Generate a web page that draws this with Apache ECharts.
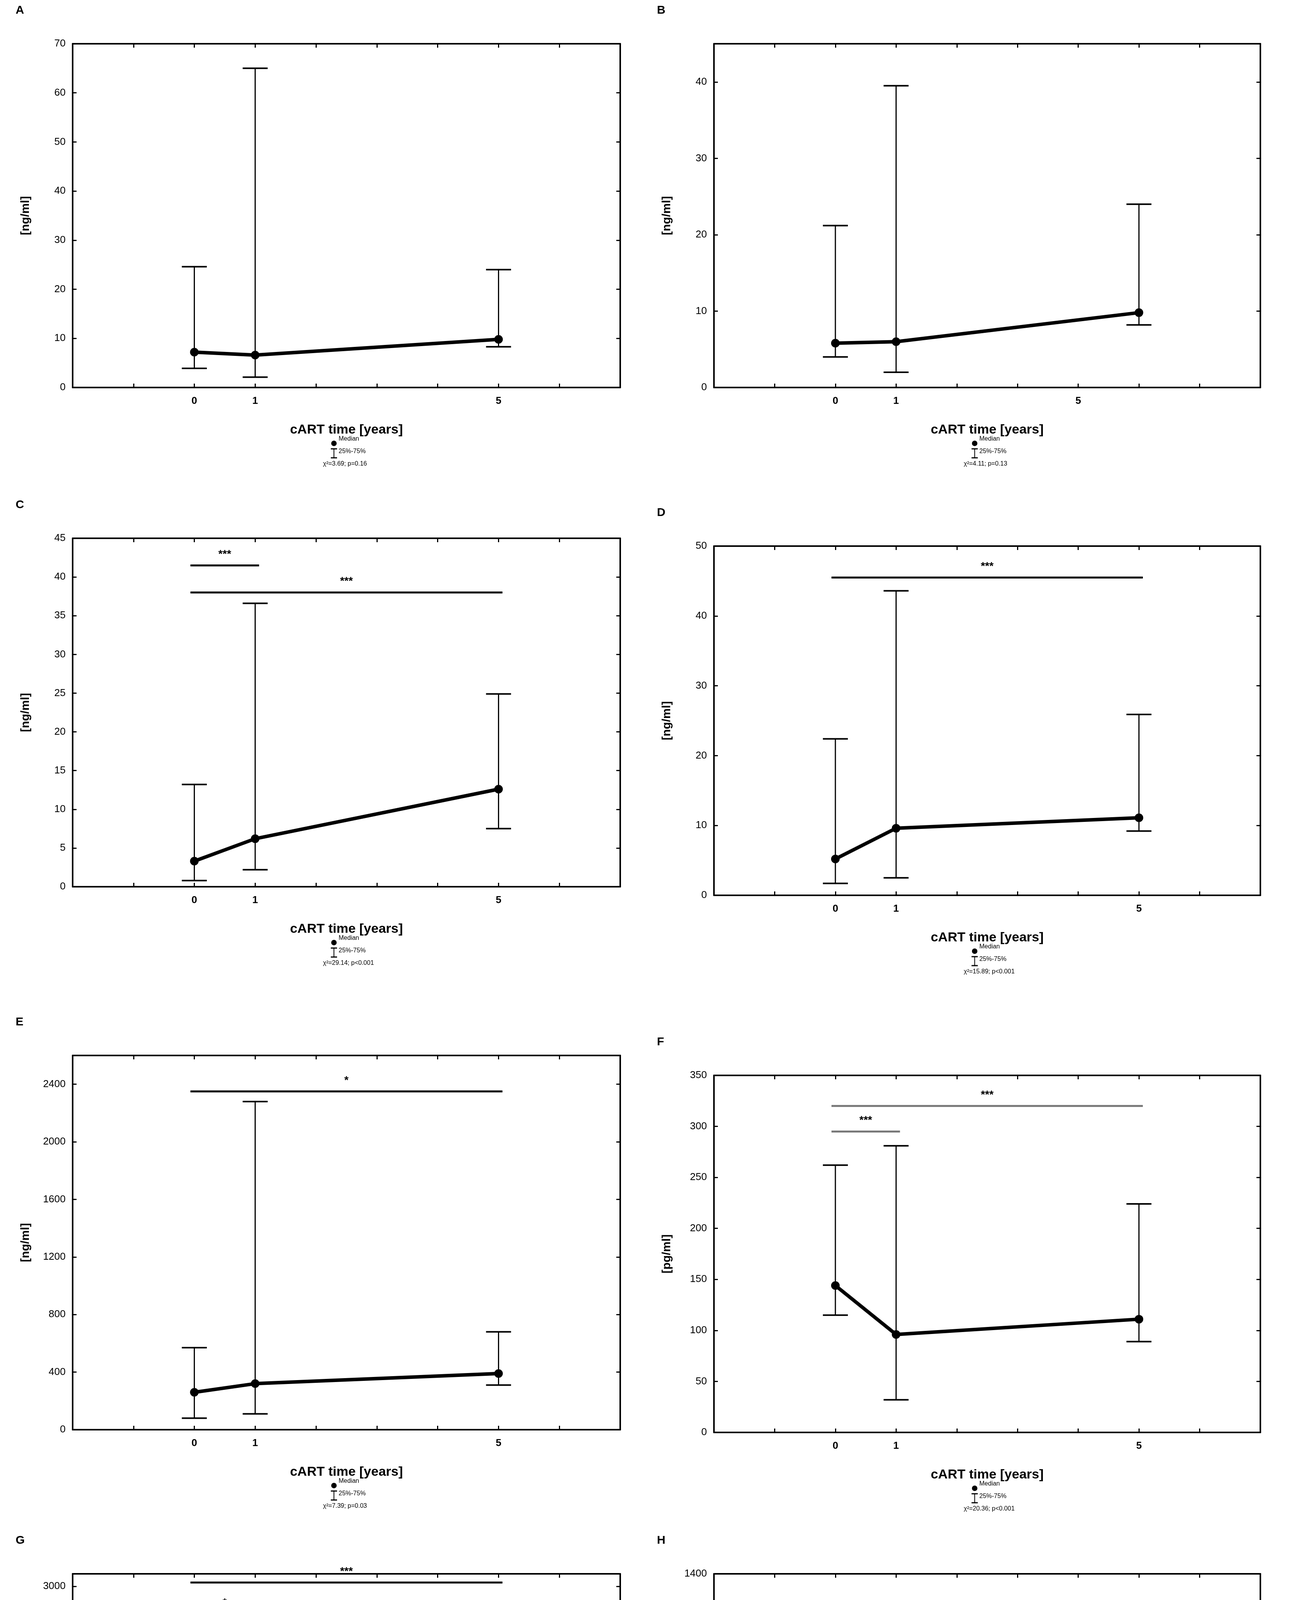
<!DOCTYPE html>
<html><head><meta charset="utf-8">
<script src="https://cdn.jsdelivr.net/npm/echarts@6/dist/echarts.min.js"></script>
<style>html,body{margin:0;padding:0;background:#fff}#c{width:3308px;height:5353px}</style>
</head><body><div id="c"></div>
<script>
const letters = ['A','B','C','D','E','F','G','H'];
const units = ['[ng/ml]','[ng/ml]','[ng/ml]','[ng/ml]','[ng/ml]','[pg/ml]','[ng/ml]','[ng/ml]'];
const yMax = [70,45,45,50,2600,350,3100,1400];
const yStep = [10,10,5,10,400,50,500,200];
const pointX = [[0,1,5],[0,1,5],[0,1,5],[0,1,5],[0,1,5],[0,1,5],[0,1,5],[0,1,5]];
const tickLabels = [{0:'0',1:'1',5:'5'},{0:'0',1:'1',4:'5'},{0:'0',1:'1',5:'5'},{0:'0',1:'1',5:'5'},{0:'0',1:'1',5:'5'},{0:'0',1:'1',5:'5'},{0:'0',1:'1',5:'5'},{0:'0',1:'1',5:'5'}];
const medians = [[7.2,6.6,9.8],[5.8,6.0,9.8],[3.3,6.2,12.6],[5.2,9.6,11.1],[260,320,390],[144,96,111],[230,350,430],[220,170,265]];
const q1 = [[3.9,2.1,8.3],[4.0,2.0,8.2],[0.8,2.2,7.5],[1.7,2.5,9.2],[80,110,310],[115,32,89],[100,140,330],[175,55,185]];
const q3 = [[24.6,65,24],[21.2,39.5,24],[13.2,36.6,24.9],[22.4,43.6,25.9],[570,2280,680],[262,281,224],[640,2680,1070],[430,1300,510]];
const sigBars = [[],[],[[0,1,41.5,'***'],[0,5,38,'***']],[[0,5,45.5,'***']],[[0,5,2350,'*']],[[0,1,295,'***'],[0,5,320,'***']],[[0,1,2780,'*'],[0,5,3030,'***']],[]];
const sigColor = ['#000','#000','#000','#000','#000','#777','#000','#000'];
const stats = ['χ²=3.69; p=0.16','χ²=4.11; p=0.13','χ²=29.14; p<0.001','χ²=15.89; p<0.001','χ²=7.39; p=0.03','χ²=20.36; p<0.001','χ²=16.96; p<0.001','χ²=2.28; p>0.05'];
const xLabel = 'cART time [years]';

const boxes = [[186,112,1402,880],[1828,112,1399,880],[186,1378,1402,892],[1828,1398,1399,894],[186,2702,1402,958],[1828,2753,1399,914],[186,4029,1402,989],[1828,4029,1399,996]];
const F = 'Liberation Sans, Arial, sans-serif';
const grid=[],xAxis=[],yAxis=[],series=[],graphic=[];
boxes.forEach((b,i)=>{
  const [l,t,w,h]=b;
  grid.push({left:l,top:t,width:w,height:h,show:false});
  const tl=tickLabels[i];
  const xb={gridIndex:i,type:'value',min:-2,max:7,interval:1,splitLine:{show:false},
    axisLine:{show:true,onZero:false,lineStyle:{color:'#000',width:4}},
    axisTick:{show:true,inside:true,length:10,lineStyle:{color:'#000',width:3}}};
  xAxis.push(Object.assign({},xb,{position:'bottom',name:xLabel,nameLocation:'middle',nameGap:92,
    nameTextStyle:{fontFamily:F,fontSize:34,fontWeight:'bold',color:'#000'},
    axisLabel:{margin:22,fontFamily:F,fontSize:26,fontWeight:'bold',color:'#000',formatter:v=>tl[v]!==undefined?tl[v]:''}}));
  xAxis.push(Object.assign({},xb,{position:'top',axisLabel:{show:false}}));
  const yb={gridIndex:i,type:'value',min:0,max:yMax[i],interval:yStep[i],splitLine:{show:false},
    axisLine:{show:true,onZero:false,lineStyle:{color:'#000',width:4}},
    axisTick:{show:true,inside:true,length:10,lineStyle:{color:'#000',width:3}}};
  yAxis.push(Object.assign({},yb,{position:'left',name:units[i],nameLocation:'middle',nameGap:105,
    nameTextStyle:{fontFamily:F,fontSize:30,fontWeight:'bold',color:'#000'},
    axisLabel:{margin:18,fontFamily:F,fontSize:26,color:'#000',formatter:v=>String(v),showMaxLabel:yMax[i]%yStep[i]===0}}));
  yAxis.push(Object.assign({},yb,{position:'right',axisLabel:{show:false}}));
  const xi=2*i, yi=2*i;
  series.push({type:'custom',xAxisIndex:xi,yAxisIndex:yi,z:2,
    data:pointX[i].map((x,k)=>[x,q1[i][k],q3[i][k]]),
    renderItem:(p,api)=>{const a=api.coord([api.value(0),api.value(1)]),c=api.coord([api.value(0),api.value(2)]);const hw=32;
      const st={stroke:'#000',lineWidth:3};
      return {type:'group',children:[
        {type:'line',shape:{x1:a[0],y1:a[1],x2:c[0],y2:c[1]},style:st},
        {type:'line',shape:{x1:a[0]-hw,y1:a[1],x2:a[0]+hw,y2:a[1]},style:{stroke:'#000',lineWidth:4}},
        {type:'line',shape:{x1:c[0]-hw,y1:c[1],x2:c[0]+hw,y2:c[1]},style:{stroke:'#000',lineWidth:4}}]};}});
  series.push({type:'line',xAxisIndex:xi,yAxisIndex:yi,z:3,data:pointX[i].map((x,k)=>[x,medians[i][k]]),
    symbol:'circle',symbolSize:22,itemStyle:{color:'#000'},lineStyle:{color:'#000',width:9},silent:true});
  if(sigBars[i].length) series.push({type:'custom',xAxisIndex:xi,yAxisIndex:yi,z:2,data:sigBars[i],
    renderItem:(p,api)=>{const s=sigBars[i][p.dataIndex];const a=api.coord([s[0],s[2]]),c=api.coord([s[1],s[2]]);
      return {type:'group',children:[
        {type:'line',shape:{x1:a[0]-10,y1:a[1],x2:c[0]+10,y2:c[1]},style:{stroke:sigColor[i],lineWidth:5}},
        {type:'text',style:{text:s[3],x:(a[0]+c[0])/2,y:a[1]-14,textAlign:'center',textVerticalAlign:'bottom',font:'bold 28px '+F,fill:'#000'}}]};}});
  graphic.push({type:'text',left:l-146,top:t-100,style:{text:letters[i],font:'bold 30px '+F,fill:'#000'}});
  const cx=l+w/2-20, by=t+h;
  graphic.push({type:'circle',shape:{cx:cx-12,cy:by+143,r:7},style:{fill:'#000'}});
  graphic.push({type:'text',left:cx,top:by+124,style:{text:'Median',font:'16px '+F,fill:'#000'}});
  graphic.push({type:'line',shape:{x1:cx-12,y1:by+157,x2:cx-12,y2:by+180},style:{stroke:'#000',lineWidth:2}});
  graphic.push({type:'line',shape:{x1:cx-20,y1:by+157,x2:cx-4,y2:by+157},style:{stroke:'#000',lineWidth:3}});
  graphic.push({type:'line',shape:{x1:cx-20,y1:by+180,x2:cx-4,y2:by+180},style:{stroke:'#000',lineWidth:3}});
  graphic.push({type:'text',left:cx,top:by+156,style:{text:'25%-75%',font:'16px '+F,fill:'#000'}});
  graphic.push({type:'text',left:cx-40,top:by+188,style:{text:stats[i],font:'16px '+F,fill:'#000'}});
});
const chart=echarts.init(document.getElementById('c'));
chart.setOption({animation:false,backgroundColor:'#fff',grid,xAxis,yAxis,series,graphic});
</script></body></html>
